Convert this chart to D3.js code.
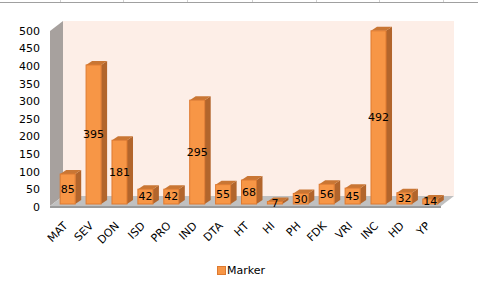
<!DOCTYPE html>
<html>
<head>
<meta charset="utf-8">
<script src="https://cdn.jsdelivr.net/npm/d3@7"></script>
<style>
    html, body { margin: 0; padding: 0; background: #fff; }
    svg { display: block; font-family: "DejaVu Sans", Verdana, sans-serif; }
</style>
</head>
<body>
<svg id="chart" width="478" height="290"></svg>
<script>
var categories = ['MAT', 'SEV', 'DON', 'ISD', 'PRO', 'IND', 'DTA', 'HT', 'HI', 'PH', 'FDK', 'VRI', 'INC', 'HD', 'YP'];
var markerValues = [85, 395, 181, 42, 42, 295, 55, 68, 7, 30, 56, 45, 492, 32, 14];
var yTicks = [0, 50, 100, 150, 200, 250, 300, 350, 400, 450, 500];
var seriesName = 'Marker';

var CHART = CHART || {};

(function (CHART) {
    var svg = d3.select('#chart');

    // depth of the 3D walls and of each bar
    var wallDx = 13, wallDy = -10;
    var barShiftX = 3, barShiftY = -3;
    var barDx = 6, barDy = -4;

    var x = d3.scaleBand().domain(categories).range([52, 440]).paddingInner(0.42).paddingOuter(0.2);
    var y = d3.scaleLinear().domain([0, 500]).range([207, 31]);

    var left = 50, right = 441, floorY = y(0) - 1;

    /**
     * Spreadsheet cell borders peeking in at the top
     */
    CHART.renderSheetLines = function () {
        svg.append('line').attr('x1', 0).attr('x2', 478).attr('y1', 2.5).attr('y2', 2.5)
            .attr('stroke', '#a0a0a0');
        svg.selectAll('.cell-line').data([60, 123, 187, 252, 316, 379, 443])
            .enter().append('line')
            .attr('x1', function (d) { return d + 0.5; }).attr('x2', function (d) { return d + 0.5; })
            .attr('y1', 0).attr('y2', 2).attr('stroke', '#d0d0d0');
    };

    /**
     * Back wall, side wall and floor
     */
    CHART.renderWalls = function () {
        svg.append('rect')
            .attr('x', left + wallDx).attr('y', y(500) + wallDy)
            .attr('width', right - left).attr('height', floorY - y(500))
            .attr('fill', '#fdeee7');
        svg.append('polygon')
            .attr('points', [[left, floorY], [left, y(500)], [left + wallDx, y(500) + wallDy], [left + wallDx, floorY + wallDy]].join(' '))
            .attr('fill', '#a7a19e');
        svg.append('polygon')
            .attr('points', [[left, floorY], [right, floorY], [right + wallDx, floorY + wallDy], [left + wallDx, floorY + wallDy]].join(' '))
            .attr('fill', '#c0c0c0');
        svg.append('rect')
            .attr('x', left).attr('y', floorY).attr('width', right - left).attr('height', 2)
            .attr('fill', '#9a9a9a');
    };

    /**
     * Bars with front, side and top faces
     */
    CHART.renderBars = function () {
        var bw = x.bandwidth();
        var g = svg.selectAll('.bar').data(markerValues)
            .enter().append('g').attr('class', 'bar');

        var x0 = function (d, i) { return x(categories[i]) + barShiftX; };
        var top = function (d) { return y(d) + barShiftY; };
        var base = y(0) + barShiftY;

        g.append('polygon')
            .attr('points', function (d, i) {
                var a = x0(d, i) + bw, t = top(d);
                return [[a, t], [a + barDx, t + barDy], [a + barDx, base + barDy], [a, base]].join(' ');
            })
            .attr('fill', '#b2652c');
        g.append('polygon')
            .attr('points', function (d, i) {
                var a = x0(d, i), t = top(d);
                return [[a, t], [a + barDx, t + barDy], [a + bw + barDx, t + barDy], [a + bw, t]].join(' ');
            })
            .attr('fill', '#c97634');
        g.append('rect')
            .attr('x', x0).attr('y', top)
            .attr('width', bw).attr('height', function (d) { return base - top(d); })
            .attr('fill', '#f79646').attr('stroke', '#de7a30').attr('stroke-width', 1);

        g.append('text')
            .attr('x', function (d, i) { return x0(d, i) + bw / 2; })
            .attr('y', function (d) { return (top(d) + base) / 2; })
            .attr('dy', '0.35em')
            .attr('text-anchor', 'middle')
            .attr('font-size', 11)
            .attr('fill', '#000')
            .text(function (d) { return d; });
    };

    /**
     * Value axis on the left and rotated category labels below
     */
    CHART.renderAxes = function () {
        svg.selectAll('.y-label').data(yTicks)
            .enter().append('text')
            .attr('class', 'y-label')
            .attr('x', 40).attr('y', y).attr('dy', '0.35em')
            .attr('text-anchor', 'end').attr('font-size', 11)
            .text(function (d) { return d; });

        svg.selectAll('.x-label').data(categories)
            .enter().append('text')
            .attr('class', 'x-label')
            .attr('transform', function (d) {
                return 'translate(' + (x(d) + x.bandwidth() / 2 - 2) + ',' + 221 + ') rotate(-45)';
            })
            .attr('dy', '0.7em')
            .attr('text-anchor', 'end').attr('font-size', 11)
            .text(function (d) { return d; });
    };

    CHART.renderLegend = function () {
        svg.append('rect').attr('x', 217.5).attr('y', 266.5).attr('width', 8).attr('height', 8)
            .attr('fill', '#f79646').attr('stroke', '#de7a30');
        svg.append('text').attr('x', 227).attr('y', 270.5).attr('dy', '0.35em')
            .attr('font-size', 11).text(seriesName);
    };

    CHART.renderSheetLines();
    CHART.renderWalls();
    CHART.renderBars();
    CHART.renderAxes();
    CHART.renderLegend();
})(CHART);
</script>
</body>
</html>
